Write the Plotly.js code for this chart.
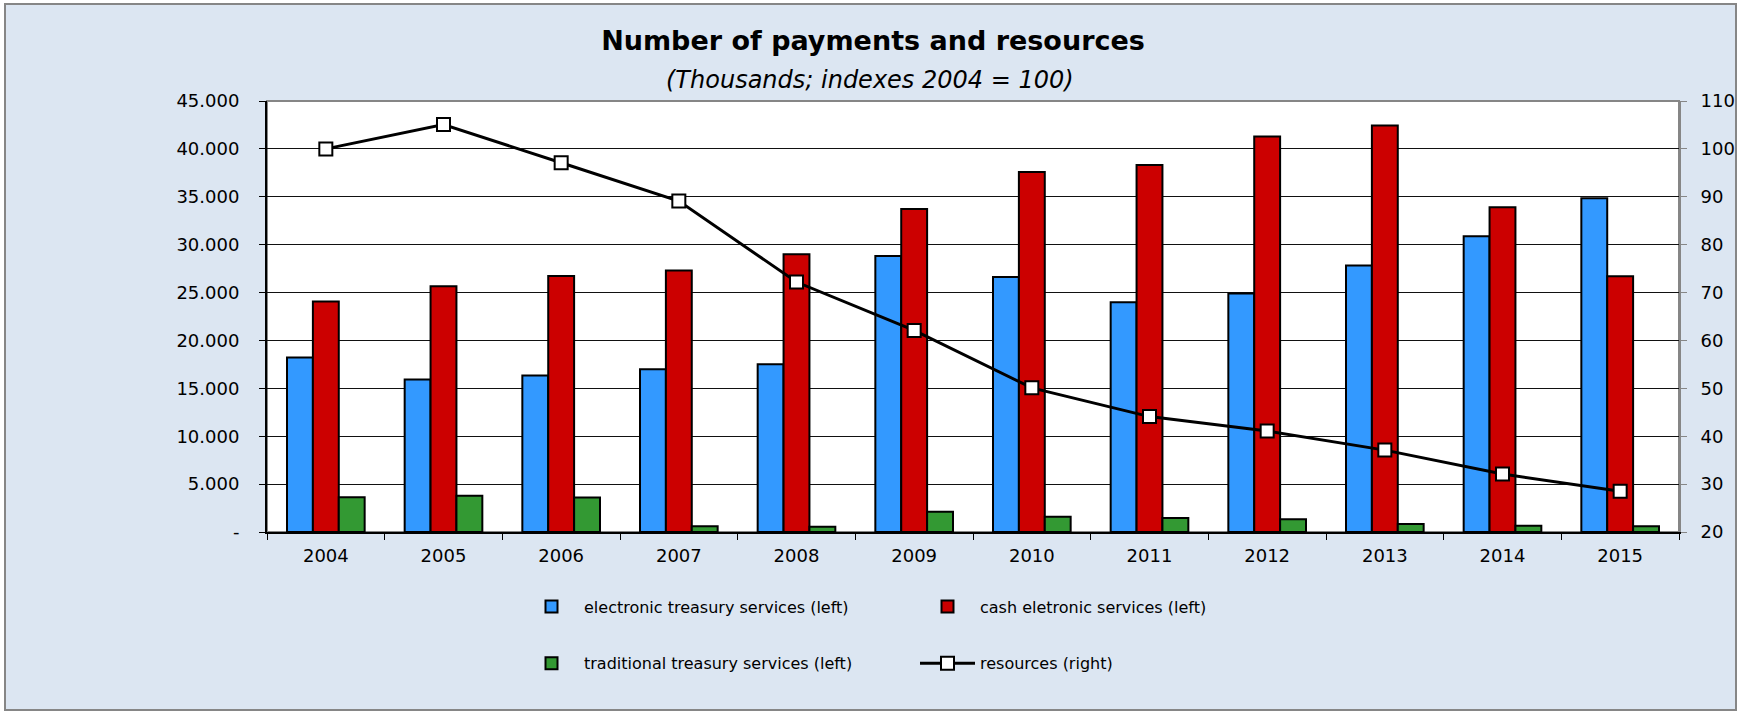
<!DOCTYPE html>
<html>
<head>
<meta charset="utf-8">
<script src="https://cdn.plot.ly/plotly-3.0.1.min.js"></script>
<style>
  html, body { margin: 0; padding: 0; background: #ffffff; }
  #chart { width: 1741px; height: 714px; }
</style>
</head>
<body>
<div id="chart"></div>
<script>
// ---------------- DATA ----------------
const years = ['2004', '2005', '2006', '2007', '2008', '2009', '2010', '2011', '2012', '2013', '2014', '2015'];
const electronicTreasury = [18220, 15930, 16340, 17000, 17520, 28820, 26630, 23990, 24900, 27820, 30870, 34840];
const cashElectronic = [24060, 25660, 26740, 27290, 28990, 33720, 37580, 38310, 41300, 42450, 33900, 26700];
const traditionalTreasury = [3620, 3790, 3600, 590, 550, 2120, 1600, 1460, 1320, 830, 660, 590];
const resourcesIndex = [100, 105.1, 97.1, 89.1, 72.2, 62.1, 50.1, 44.1, 41.1, 37.1, 32.1, 28.5];
const leftTickVals = [0, 5000, 10000, 15000, 20000, 25000, 30000, 35000, 40000, 45000];
const leftTickText = ['-', '5.000', '10.000', '15.000', '20.000', '25.000', '30.000', '35.000', '40.000', '45.000'];
const seriesNames = [
  'electronic treasury services (left)',
  'cash eletronic services (left)',
  'traditional treasury services (left)',
  'resources (right)'
];
const titleText = 'Number of payments and resources';
const subtitleText = '(Thousands; indexes 2004 = 100)';

// ---------------- LAYOUT GEOMETRY ----------------
const W = 1741, H = 714;
const M = { l: 267, r: 62, t: 101, b: 182, pad: 0 };
const PW = W - M.l - M.r, PH = H - M.t - M.b;
const px2x = px => (px - M.l) / PW;          // pixel -> paper x
const py2y = py => (H - M.b - py) / PH;      // pixel -> paper y

const FONT = 'DejaVu Sans, Verdana, Arial, sans-serif';
const BLUE = '#3399FF', RED = '#CC0000', GREEN = '#339933';
const PANEL = '#DCE6F2', BORDER = '#868686';

const barLine = { color: '#000000', width: 2 };

const traces = [
  { type: 'bar', x: years, y: electronicTreasury, name: seriesNames[0],
    marker: { color: BLUE, line: barLine }, legend: 'legend', hoverinfo: 'skip' },
  { type: 'bar', x: years, y: cashElectronic, name: seriesNames[1],
    marker: { color: RED, line: barLine }, legend: 'legend', hoverinfo: 'skip' },
  { type: 'bar', x: years, y: traditionalTreasury, name: seriesNames[2],
    marker: { color: GREEN, line: barLine }, legend: 'legend2', hoverinfo: 'skip' },
  { type: 'scatter', mode: 'lines+markers', x: years, y: resourcesIndex, name: seriesNames[3],
    yaxis: 'y2', legend: 'legend2', hoverinfo: 'skip',
    line: { color: '#000000', width: 3 },
    marker: { symbol: 'square', size: 13, color: '#ffffff', line: { color: '#000000', width: 2 } } }
];

const legendCommon = {
  orientation: 'h', xref: 'container', yref: 'container',
  xanchor: 'left', yanchor: 'middle',
  bgcolor: 'rgba(0,0,0,0)', borderwidth: 0,
  font: { family: FONT, size: 16, color: '#000000' },
  itemwidth: 55, entrywidth: 326, entrywidthmode: 'pixels',
  traceorder: 'normal', itemclick: false, itemdoubleclick: false
};

const layout = {
  width: W, height: H,
  margin: M,
  paper_bgcolor: '#ffffff',
  plot_bgcolor: '#ffffff',
  barmode: 'group', bargap: 0.34, bargroupgap: 0,
  showlegend: true,
  font: { family: FONT, color: '#000000' },
  title: {
    text: '<b>' + titleText + '</b>',
    font: { family: FONT, size: 27, color: '#000000' },
    xref: 'container', x: 873 / W, xanchor: 'center',
    yref: 'container', y: 1 - 41 / H, yanchor: 'middle'
  },
  annotations: [{
    text: '<i>' + subtitleText + '</i>',
    xref: 'paper', yref: 'paper', x: px2x(870), y: py2y(80),
    xanchor: 'center', yanchor: 'middle', showarrow: false,
    font: { family: FONT, size: 24, color: '#000000' }
  }],
  xaxis: {
    type: 'category', categoryorder: 'array', categoryarray: years,
    range: [-0.5, years.length - 0.5], autorange: false,
    showline: true, linecolor: '#000000', linewidth: 2,
    ticks: 'outside', ticklen: 6, tickwidth: 1, tickcolor: '#000000',
    tickson: 'boundaries', showgrid: false, zeroline: false,
    tickfont: { family: FONT, size: 18, color: '#000000' },
    ticklabelstandoff: 6, fixedrange: true
  },
  yaxis: {
    range: [0, 45000], autorange: false, tickmode: 'array', tickvals: leftTickVals, ticktext: leftTickText,
    showline: true, linecolor: '#000000', linewidth: 2,
    ticks: 'outside', ticklen: 6, tickwidth: 1, tickcolor: '#000000',
    showgrid: true, gridcolor: '#111111', gridwidth: 1, zeroline: false,
    tickfont: { family: FONT, size: 18, color: '#000000' },
    ticklabelstandoff: 16, fixedrange: true
  },
  yaxis2: {
    overlaying: 'y', side: 'right', range: [20, 110], autorange: false, dtick: 10, tick0: 20,
    showline: true, linecolor: BORDER, linewidth: 2,
    ticks: 'outside', ticklen: 6, tickwidth: 1, tickcolor: BORDER,
    showgrid: false, zeroline: false,
    tickfont: { family: FONT, size: 18, color: '#000000' },
    ticklabelstandoff: 10, fixedrange: true
  },
  legend: Object.assign({}, legendCommon, { x: 519 / W, y: 1 - 606.7 / H }),
  legend2: Object.assign({}, legendCommon, { x: 519 / W, y: 1 - 663.3 / H }),
  shapes: [
    { type: 'rect', xref: 'paper', yref: 'paper', layer: 'below',
      x0: px2x(5), x1: px2x(1736), y0: py2y(710), y1: py2y(4),
      fillcolor: PANEL, line: { color: BORDER, width: 2 } },
    { type: 'rect', xref: 'paper', yref: 'paper', layer: 'below',
      x0: 0, x1: 1, y0: 0, y1: 1,
      fillcolor: '#ffffff', line: { color: BORDER, width: 2 } }
  ]
};

Plotly.newPlot('chart', traces, layout, { displayModeBar: false, staticPlot: true });
</script>
</body>
</html>
